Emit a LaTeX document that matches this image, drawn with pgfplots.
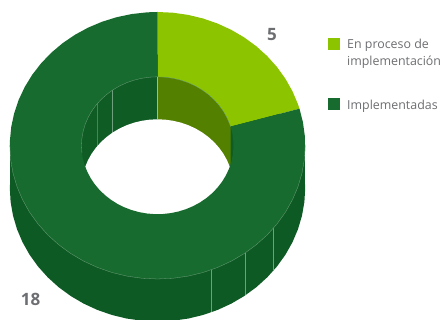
\documentclass[border=0pt]{standalone}
\usepackage{pgfplots}
\pgfplotsset{compat=1.18}
\usepackage{pgfplotstable}
\usepackage{fontspec}
\setmainfont{Open Sans}
\definecolor{lime}{HTML}{8CC500}
\definecolor{olive}{HTML}{548000}
\definecolor{ringgreen}{HTML}{176B2E}
\definecolor{walldark}{HTML}{0E5A24}
\definecolor{seam}{HTML}{6F9F7E}
\definecolor{labelgrey}{HTML}{6D6E71}
\begin{document}
\begin{tikzpicture}
\useasboundingbox (0,0) rectangle (446pt,320pt);
\begin{axis}[
  at={(0,0)}, anchor=south west,
  width=446pt, height=320pt, scale only axis,
  xmin=-157.5, xmax=288.5, ymin=-193.07, ymax=160.98,
  hide axis, clip=true,
]
% Outer side wall: lower rim and the band that joins it to the top face
\addplot[fill=walldark, draw=none, forget plot, yshift=-42.5pt, data cs=polar] coordinates {(0,147.7)(6,147.7)(12,147.7)(18,147.7)(24,147.7)(30,147.7)(36,147.7)(42,147.7)(48,147.7)(54,147.7)(60,147.7)(66,147.7)(72,147.7)(78,147.7)(84,147.7)(90,147.7)(96,147.7)(102,147.7)(108,147.7)(114,147.7)(120,147.7)(126,147.7)(132,147.7)(138,147.7)(144,147.7)(150,147.7)(156,147.7)(162,147.7)(168,147.7)(174,147.7)(180,147.7)(186,147.7)(192,147.7)(198,147.7)(204,147.7)(210,147.7)(216,147.7)(222,147.7)(228,147.7)(234,147.7)(240,147.7)(246,147.7)(252,147.7)(258,147.7)(264,147.7)(270,147.7)(276,147.7)(282,147.7)(288,147.7)(294,147.7)(300,147.7)(306,147.7)(312,147.7)(318,147.7)(324,147.7)(330,147.7)(336,147.7)(342,147.7)(348,147.7)(354,147.7)(360,147.7)} -- cycle;
\addplot[fill=walldark, draw=none, forget plot] coordinates {(-147.7,0)(147.7,0)(147.7,-47.02)(-147.7,-47.02)} -- cycle;
% Panel seams on the outer wall
\addplot[seam, line width=0.4pt, forget plot] coordinates {(53.5,-137.7)(53.5,-184.7)};
\addplot[seam, line width=0.4pt, forget plot] coordinates {(88,-118.6)(88,-165.6)};
\addplot[seam, line width=0.4pt, forget plot] coordinates {(116,-91.4)(116,-138.4)};
% Inner wall, seen through the hole
\addplot[fill=walldark!90!ringgreen, draw=none, forget plot, data cs=polar] coordinates {(0,76)(6,76)(12,76)(18,76)(24,76)(30,76)(36,76)(42,76)(48,76)(54,76)(60,76)(66,76)(72,76)(78,76)(84,76)(90,76)(96,76)(102,76)(108,76)(114,76)(120,76)(126,76)(132,76)(138,76)(144,76)(150,76)(156,76)(162,76)(168,76)(174,76)(180,76)(186,76)(192,76)(198,76)(204,76)(210,76)(216,76)(222,76)(228,76)(234,76)(240,76)(246,76)(252,76)(258,76)(264,76)(270,76)(276,76)(282,76)(288,76)(294,76)(300,76)(306,76)(312,76)(318,76)(324,76)(330,76)(336,76)(342,76)(348,76)(354,76)(360,76)} -- cycle;
\addplot[fill=olive, draw=none, forget plot, data cs=polar] coordinates {(90,76)(84,76)(78,76)(72,76)(66,76)(60,76)(54,76)(48,76)(42,76)(36,76)(30,76)(24,76)(18,76)(16,76)(-18.2,77)(0,0)} -- cycle;
\addplot[seam!70!white, line width=0.5pt, forget plot] coordinates {(0,76)(0,29)};
\addplot[seam, line width=0.4pt, forget plot] coordinates {(-45,61.3)(-45,14.3)};
\addplot[seam!60!walldark, line width=0.3pt, forget plot] coordinates {(-60,46.7)(-60,-0.3)};
% Opening of the hole
\addplot[fill=white, draw=none, forget plot, yshift=-42.5pt, data cs=polar] coordinates {(0,76)(6,76)(12,76)(18,76)(24,76)(30,76)(36,76)(42,76)(48,76)(54,76)(60,76)(66,76)(72,76)(78,76)(84,76)(90,76)(96,76)(102,76)(108,76)(114,76)(120,76)(126,76)(132,76)(138,76)(144,76)(150,76)(156,76)(162,76)(168,76)(174,76)(180,76)(186,76)(192,76)(198,76)(204,76)(210,76)(216,76)(222,76)(228,76)(234,76)(240,76)(246,76)(252,76)(258,76)(264,76)(270,76)(276,76)(282,76)(288,76)(294,76)(300,76)(306,76)(312,76)(318,76)(324,76)(330,76)(336,76)(342,76)(348,76)(354,76)(360,76)} -- cycle;
% Top face. The lime slice sweeps 74 degrees; the printed 5 and 18 are rounded counts.
\addplot[fill=lime, draw=none, forget plot, data cs=polar] coordinates {
 (90,147.7)(84,147.7)(78,147.7)(72,147.7)(66,147.7)(60,147.7)(54,147.7)(48,147.7)(42,147.7)(36,147.7)(30,147.7)(24,147.7)(18,147.7)(16,147.7)
 (16,76)(18,76)(24,76)(30,76)(36,76)(42,76)(48,76)(54,76)(60,76)(66,76)(72,76)(78,76)(84,76)(90,76)} -- cycle;
\addplot[fill=ringgreen, draw=none, forget plot, data cs=polar] coordinates {
 (16,147.7)(10,147.7)(4,147.7)(-2,147.7)(-8,147.7)(-14,147.7)(-20,147.7)(-26,147.7)(-32,147.7)(-38,147.7)(-44,147.7)(-50,147.7)(-56,147.7)(-62,147.7)(-68,147.7)(-74,147.7)(-80,147.7)(-86,147.7)(-92,147.7)(-98,147.7)(-104,147.7)(-110,147.7)(-116,147.7)(-122,147.7)(-128,147.7)(-134,147.7)(-140,147.7)(-146,147.7)(-152,147.7)(-158,147.7)(-164,147.7)(-170,147.7)(-176,147.7)(-182,147.7)(-188,147.7)(-194,147.7)(-200,147.7)(-206,147.7)(-212,147.7)(-218,147.7)(-224,147.7)(-230,147.7)(-236,147.7)(-242,147.7)(-248,147.7)(-254,147.7)(-260,147.7)(-266,147.7)(-270,147.7)
 (-270,76)(-266,76)(-260,76)(-254,76)(-248,76)(-242,76)(-236,76)(-230,76)(-224,76)(-218,76)(-212,76)(-206,76)(-200,76)(-194,76)(-188,76)(-182,76)(-176,76)(-170,76)(-164,76)(-158,76)(-152,76)(-146,76)(-140,76)(-134,76)(-128,76)(-122,76)(-116,76)(-110,76)(-104,76)(-98,76)(-92,76)(-86,76)(-80,76)(-74,76)(-68,76)(-62,76)(-56,76)(-50,76)(-44,76)(-38,76)(-32,76)(-26,76)(-20,76)(-14,76)(-8,76)(-2,76)(4,76)(10,76)(16,76)} -- cycle;
% Fine highlight along the rims
\addplot[seam, line width=0.3pt, forget plot, data cs=polar] coordinates {(180,147.7)(186,147.7)(192,147.7)(198,147.7)(204,147.7)(210,147.7)(216,147.7)(222,147.7)(228,147.7)(234,147.7)(240,147.7)(246,147.7)(252,147.7)(258,147.7)(264,147.7)(270,147.7)(276,147.7)(282,147.7)(288,147.7)(294,147.7)(300,147.7)(306,147.7)(312,147.7)(318,147.7)(324,147.7)(330,147.7)(336,147.7)(342,147.7)(348,147.7)(354,147.7)(360,147.7)};
\addplot[seam, line width=0.3pt, forget plot, data cs=polar] coordinates {(16,76)(18,76)(24,76)(30,76)(36,76)(42,76)(48,76)(54,76)(60,76)(66,76)(72,76)(78,76)(84,76)(90,76)(96,76)(102,76)(108,76)(114,76)(120,76)(126,76)(132,76)(138,76)(144,76)(150,76)(156,76)(162,76)(168,76)(174,76)(180,76)(186,76)};
% Value labels
\node[font=\fontsize{17}{17}\selectfont\bfseries, text=labelgrey] at (axis cs:114.5,122.8) {5};
\node[font=\fontsize{17}{17}\selectfont\bfseries, text=labelgrey] at (axis cs:-127,-170) {18};
% Legend
\addplot[only marks, mark=square*, mark size=5.5pt, mark options={fill=lime, draw=lime, line width=0pt}, forget plot] coordinates {(176,112.7)};
\addplot[only marks, mark=square*, mark size=5.5pt, mark options={fill=ringgreen, draw=ringgreen, line width=0pt}, forget plot] coordinates {(176,46.2)};
\node[anchor=west, align=left, text=labelgrey, font=\fontsize{12.4}{16.8}\selectfont, inner sep=0pt] at (axis cs:189.5,101.5) {En proceso de\\implementación};
\node[anchor=west, text=labelgrey, font=\fontsize{12.4}{14}\selectfont, inner sep=0pt] at (axis cs:189.5,43) {Implementadas};
\end{axis}
\end{tikzpicture}
\end{document}
